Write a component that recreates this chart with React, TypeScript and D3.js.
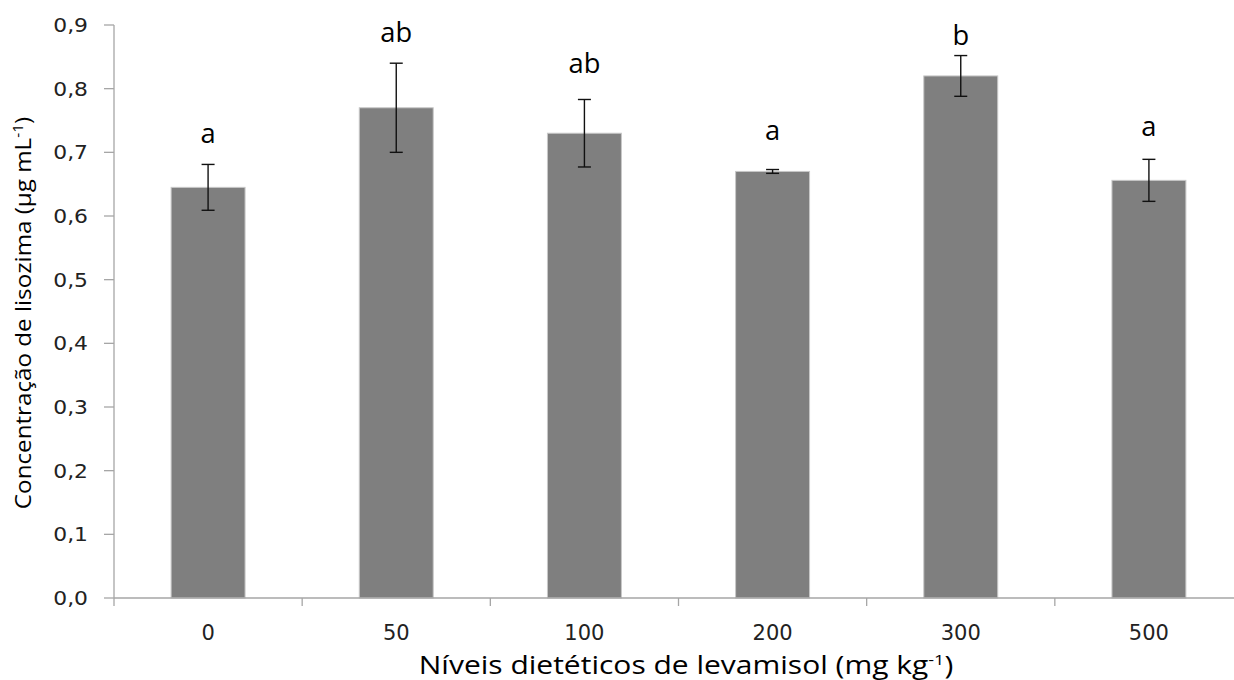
import React from "react";
import * as d3 from "d3";

// Dietary levamisol levels (mg kg-1) and lysozyme concentration (µg mL-1)
const categories: string[] = ["0", "50", "100", "200", "300", "500"];
const means: number[] = [0.645, 0.77, 0.73, 0.67, 0.82, 0.656];
const errors: number[] = [0.036, 0.07, 0.053, 0.003, 0.032, 0.033];
// Significance letters and the value at which each letter's baseline sits
const letters: string[] = ["a", "ab", "ab", "a", "b", "a"];
const letterAt: number[] = [0.714, 0.873, 0.824, 0.719, 0.868, 0.725];
const yTicks: number[] = [0, 0.1, 0.2, 0.3, 0.4, 0.5, 0.6, 0.7, 0.8, 0.9];

const W = 1234;
const H = 680;
const left = 114;
const right = 1243;
const top = 25;
const bottom = 598;

const tickFont = "'DejaVu Sans', Verdana, sans-serif";
const titleFont = "'Open Sans', 'Noto Sans', sans-serif";

export default function App() {
  const x = d3
    .scaleBand<string>()
    .domain(categories)
    .range([left, right])
    .paddingInner(0.607)
    .paddingOuter(0.3035);
  const y = d3.scaleLinear().domain([0, 0.9]).range([bottom, top]);
  const step = x.step();
  const fmt = (v: number) => d3.format(".1f")(v).replace(".", ",");
  const axisColor = "#a6a6a6";
  const boundaries = d3.range(categories.length + 1).map((i) => left + i * step);
  const mid = (c: string) => x(c)! + x.bandwidth() / 2;

  return (
    <div style={{ position: "fixed", left: 0, top: 0 }}>
      <svg width={W} height={H} style={{ display: "block", background: "#fff" }}>
        {/* bars */}
        {categories.map((c, i) => (
          <rect
            key={c}
            x={x(c)!}
            y={y(means[i])}
            width={x.bandwidth()}
            height={y(0) - y(means[i])}
            fill="#7f7f7f"
            stroke="#c8c8c8"
            strokeWidth={1}
          />
        ))}

        {/* y axis */}
        <line x1={left} x2={left} y1={top} y2={bottom} stroke={axisColor} strokeWidth={1.3} />
        {yTicks.map((t) => (
          <g key={t}>
            <line x1={left - 10} x2={left} y1={y(t)} y2={y(t)} stroke={axisColor} strokeWidth={1.3} />
            <text
              transform={`translate(88, ${y(t)}) scale(1.15, 1)`}
              dy="0.36em"
              textAnchor="end"
              fontFamily={tickFont}
              fontSize={19}
              fill="#222"
            >
              {fmt(t)}
            </text>
          </g>
        ))}

        {/* x axis */}
        <line x1={left} x2={right} y1={bottom} y2={bottom} stroke={axisColor} strokeWidth={1.3} />
        {boundaries.map((bx, i) => (
          <line key={i} x1={bx} x2={bx} y1={bottom} y2={bottom + 8} stroke={axisColor} strokeWidth={1.3} />
        ))}
        {categories.map((c) => (
          <text
            key={c}
            x={mid(c)}
            y={640}
            textAnchor="middle"
            fontFamily={tickFont}
            fontSize={21}
            fill="#222"
          >
            {c}
          </text>
        ))}

        {/* error bars */}
        {categories.map((c, i) => {
          const cx = mid(c);
          const hi = y(means[i] + errors[i]);
          const lo = y(means[i] - errors[i]);
          return (
            <g key={c} stroke="#111" strokeWidth={1.4}>
              <line x1={cx} x2={cx} y1={hi} y2={lo} />
              <line x1={cx - 6.5} x2={cx + 6.5} y1={hi} y2={hi} />
              <line x1={cx - 6.5} x2={cx + 6.5} y1={lo} y2={lo} />
            </g>
          );
        })}

        {/* significance letters */}
        {categories.map((c, i) => (
          <text
            key={c}
            transform={`translate(${mid(c)}, ${y(letterAt[i])}) scale(1.05, 1.08)`}
            textAnchor="middle"
            fontFamily={titleFont}
            fontSize={26}
            fill="#000"
          >
            {letters[i]}
          </text>
        ))}

        {/* axis titles */}
        <text
          transform="translate(686, 674) scale(1.2, 1)"
          textAnchor="middle"
          fontFamily={titleFont}
          fontSize={25}
          fill="#000"
        >
          Níveis dietéticos de levamisol (mg kg
          <tspan dy={-9} fontSize={15}>-1</tspan>
          <tspan dy={9}>)</tspan>
        </text>
        <text
          transform="translate(31, 313) rotate(-90) scale(1.1, 1)"
          textAnchor="middle"
          fontFamily={titleFont}
          fontSize={22}
          fill="#000"
        >
          Concentração de lisozima (µg mL
          <tspan dy={-8} fontSize={14}>-1</tspan>
          <tspan dy={8}>)</tspan>
        </text>
      </svg>
    </div>
  );
}
